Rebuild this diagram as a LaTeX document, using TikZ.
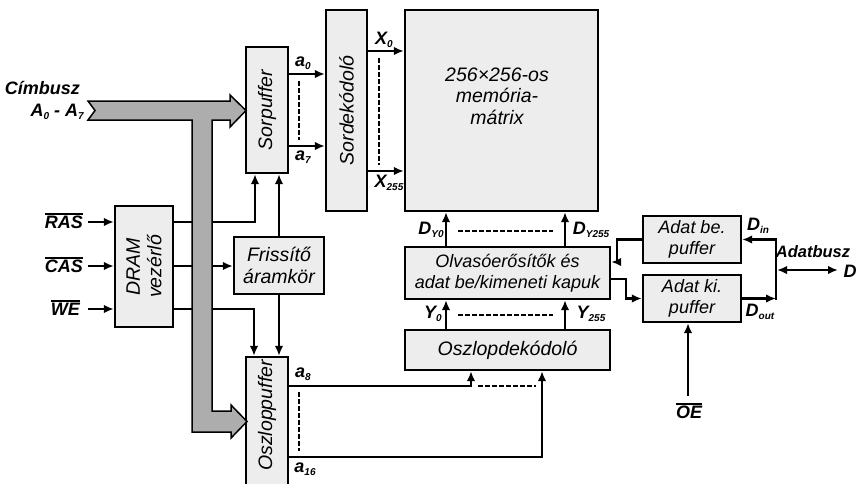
\documentclass[tikz,border=0pt]{standalone}
\usepackage{fontspec}
\setmainfont{Liberation Sans}
\usetikzlibrary{arrows.meta}
\newcommand{\ovl}[1]{\leavevmode\vbox{\hrule height 1.8pt\kern1.4pt\hbox{#1}}}
\newcommand{\sbs}[1]{\raisebox{-3.5pt}{\fontsize{10}{10}\selectfont #1}}
\begin{document}
\begin{tikzpicture}[x=1pt,y=-1pt,
 box/.style={draw,line width=2.3pt,fill=black!7,inner sep=0pt},
 btxt/.style={font=\fontsize{19.5}{21.5}\selectfont\itshape, align=center, inner sep=0pt},
 lab/.style={font=\fontsize{18}{19}\selectfont\bfseries\itshape, inner sep=0pt},
 wire/.style={line width=2.2pt},
 arr/.style={wire,-{Latex[length=10pt,width=8.5pt]}},
 dsh/.style={line width=2.2pt, dash pattern=on 4.5pt off 2.5pt},
]
\useasboundingbox (0,0) rectangle (859,483);

% boxes
\node[box, minimum width=42pt, minimum height=126pt] (sorp) at (267,110) {};
\node[box, minimum width=41pt, minimum height=201pt] (sordek) at (346.5,110.5) {};
\node[box, minimum width=193pt, minimum height=201pt] (matrix) at (501.5,110.5) {};
\node[box, minimum width=58pt, minimum height=121pt] (dram) at (144,266.5) {};
\node[box, minimum width=90pt, minimum height=57pt] (friss) at (279,265.5) {};
\node[box, minimum width=42pt, minimum height=140pt] (oszp) at (267,427) {};
\node[box, minimum width=205pt, minimum height=52pt] (olv) at (507.5,273) {};
\node[box, minimum width=205pt, minimum height=40pt] (oszd) at (507.5,350) {};
\node[box, minimum width=98pt, minimum height=47pt] (adbe) at (692,239.5) {};
\node[box, minimum width=98pt, minimum height=47pt] (adki) at (692,298.5) {};

% box texts
\node[btxt, rotate=90] (tsorp) at (sorp) {Sorpuffer};
\node[btxt, rotate=90] (tsordek) at (sordek) {Sordekódoló};
\node[btxt] (tmat) at (497,96) {256×256-os\\memória-\\mátrix};
\node[btxt, rotate=90] (tdram) at (dram) {DRAM\\vezérlő};
\node[btxt] (tfriss) at (friss) {Frissítő\\áramkör};
\node[btxt, rotate=90, anchor=east] (toszp) at (267,360) {Oszloppuffer};
\node[btxt, font=\fontsize{18}{21}\selectfont\itshape] (tolv) at (olv) {Olvasóerősítők és\\adat be/kimeneti kapuk};
\node[btxt] (toszd) at (oszd) {Oszlopdekódoló};
\node[btxt, font=\fontsize{18}{21}\selectfont\itshape] (tadbe) at (adbe) {Adat be.\\puffer};
\node[btxt, font=\fontsize{18}{21}\selectfont\itshape] (tadki) at (adki) {Adat ki.\\puffer};

% row address
\draw[arr] (sorp.east |- 0,74) -- (sordek.west |- 0,74);
\draw[arr] (sorp.east |- 0,146) -- (sordek.west |- 0,146);
\draw[dsh] (299,81) -- (299,140);
\node[lab] (la0) at (303,63) {a\sbs{0}};
\node[lab] (la7) at (303,157) {a\sbs{7}};
\draw[arr] (sordek.east |- 0,51) -- (matrix.west |- 0,51);
\draw[arr] (sordek.east |- 0,171) -- (matrix.west |- 0,171);
\draw[dsh] (379,58) -- (379,165);
\node[lab] (lx0) at (384,40) {X\sbs{0}};
\node[lab] (lx255) at (389,183) {X\sbs{255}};

% control inputs
\node[lab, anchor=east] (ras) at (83,221) {\ovl{RAS}};
\node[lab, anchor=east] (cas) at (83,265) {\ovl{CAS}};
\node[lab, anchor=east] (we) at (80,308) {\ovl{WE}};
\coordinate (ras0) at (88,222);
\coordinate (cas0) at (88,266);
\coordinate (we0) at (88,309);
\draw[arr] (ras0) -- (dram.west |- ras0);
\draw[arr] (cas0) -- (dram.west |- cas0);
\draw[arr] (we0) -- (dram.west |- we0);

% DRAM outputs
\draw[arr] (dram.east |- ras0) -| ([xshift=-12pt]sorp.south);
\draw[arr] (friss.north -| 279,0) -- (sorp.south -| 279,0);
\draw[arr] (dram.east |- cas0) -- (friss.west |- cas0);
\draw[arr] (dram.east |- we0) -| ([xshift=-13pt]oszp.north);
\draw[arr] (friss.south -| 279,0) -- (oszp.north -| 279,0);

% column address
\draw[arr] (oszp.east |- 0,386) -| (oszd.south -| 471,0);
\draw[arr] (oszp.east |- 0,457) -| (oszd.south -| 542,0);
\draw[dsh] (478,386) -- (536,386);
\draw[dsh] (299,392) -- (299,451);
\node[lab] (la8) at (303,374) {a\sbs{8}};
\node[lab] (la16) at (305,469) {a\sbs{16}};

% sense amps
\draw[arr] (olv.north -| 446,0) -- (matrix.south -| 446,0);
\draw[arr] (olv.north -| 565,0) -- (matrix.south -| 565,0);
\draw[dsh] (458,231) -- (553,231);
\node[lab] (ldy0) at (431,230) {D\sbs{Y0}};
\node[lab] (ldy255) at (591,230) {D\sbs{Y255}};
\draw[arr] (oszd.north -| 446,0) -- (olv.south -| 446,0);
\draw[arr] (oszd.north -| 565,0) -- (olv.south -| 565,0);
\draw[dsh] (458,315) -- (553,315);
\node[lab] (ly0) at (433,314) {Y\sbs{0}};
\node[lab] (ly255) at (591,314) {Y\sbs{255}};

% data buffers
\draw[arr] (adbe.west) -| (617,262) -- (olv.east |- 0,262);
\draw[arr] (olv.east |- 0,279) -| (626,298.5) -- (adki.west);
\coordinate (jn) at (776,270);
\draw[arr] (jn) |- (adbe.east);
\draw[wire] (jn) -- (776,299.5);
\draw[arr] (adki.east) -- (adki.east -| jn);
\draw[wire,{Latex[length=10pt,width=8.5pt]}-{Latex[length=10pt,width=8.5pt]}] ([xshift=1pt]jn) -- (838,270);
\node[lab] (ldin) at (758,226) {D\sbs{in}};
\node[lab] (ldout) at (760,312) {D\sbs{out}};
\node[lab, font=\fontsize{16.5}{18}\selectfont\bfseries\itshape] (ladb) at (813,252) {Adatbusz};
\node[lab] (ld) at (850,271) {D};
\node[lab] (oe) at (689,411) {\ovl{OE}};
\draw[arr] (688,396) -- (adki.south -| 688,0);

% address bus
\node[lab, anchor=east] (lcim) at (80,88) {Címbusz};
\node[lab, anchor=east] (la07) at (84,112) {A\sbs{0} - A\sbs{7}};
\draw[line width=1.5pt, fill=black!32] (88,101) -- (230,101) -- (230,95) -- (246,110.5) -- (230,127) -- (230,120) -- (212,120) -- (212,411) -- (231,411) -- (231,405) -- (247,421.5) -- (231,438) -- (231,432) -- (192,432) -- (192,120) -- (88,120) -- (95,110.5) -- cycle;
\end{tikzpicture}
\end{document}
